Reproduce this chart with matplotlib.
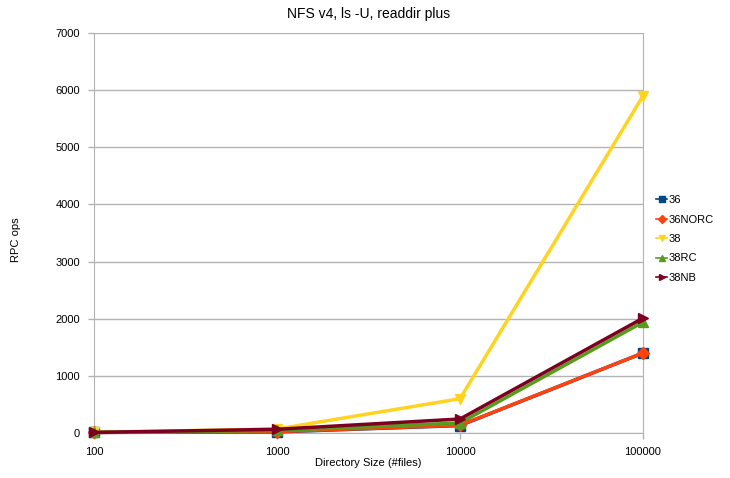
import matplotlib
matplotlib.use("Agg")
import matplotlib.pyplot as plt
from matplotlib.lines import Line2D

plt.rcParams['font.family'] = ['Liberation Sans', 'DejaVu Sans']

categories = ["100", "1000", "10000", "100000"]
s36 = [10, 20, 130, 1400]
s36norc = [10, 25, 135, 1400]
s38 = [10, 70, 600, 5900]
s38rc = [10, 45, 175, 1940]
s38nb = [10, 65, 245, 2010]

series = [
    ("36", s36, "#004586", "s"),
    ("36NORC", s36norc, "#ff420e", "D"),
    ("38", s38, "#ffd320", "v"),
    ("38RC", s38rc, "#579d1c", "^"),
    ("38NB", s38nb, "#7e0021", ">"),
]

fig = plt.figure(figsize=(7.3, 4.78), dpi=100)
ax = fig.add_axes([94/730, 1-433/478, (643-94)/730, 400/478])
x = list(range(len(categories)))
for name, vals, col, mk in series:
    ms = 7 if mk != "D" else 6
    ax.plot(x, vals, color=col, lw=2.5, marker=mk, ms=ms, label=name, clip_on=False, zorder=3)

ax.set_xlim(0, 3)
ax.set_ylim(0, 7000)
ax.set_yticks(range(0, 7001, 1000))
ax.set_xticks(x)
ax.set_xticklabels(categories)
ax.grid(axis='y', color='#b3b3b3', lw=1)
ax.set_axisbelow(True)
for sp in ax.spines.values():
    sp.set_color('#b3b3b3')
ax.spines['top'].set_visible(False)
ax.tick_params(axis='both', colors='#b3b3b3', labelcolor='black', labelsize=8, length=4, width=1)
ax.tick_params(axis='y', pad=6)
ax.tick_params(axis='x', pad=6)
ax.set_title("NFS v4, ls -U, readdir plus", fontsize=10, pad=11)
ax.set_xlabel("Directory Size (#files)", fontsize=8, labelpad=1)
fig.text(16/730, 1-240/478, "RPC ops", rotation=90, fontsize=8, ha='center', va='center')

handles = [Line2D([0], [0], color=c, lw=1.2, marker=m, ms=4) for _, _, c, m in series]
fig.legend(handles, [s[0] for s in series], loc='center left', bbox_to_anchor=(646/730, 1-239/478),
           frameon=False, fontsize=8, handlelength=1.0, handletextpad=0.1, labelspacing=0.85)

fig.savefig("out.png", dpi=100)
